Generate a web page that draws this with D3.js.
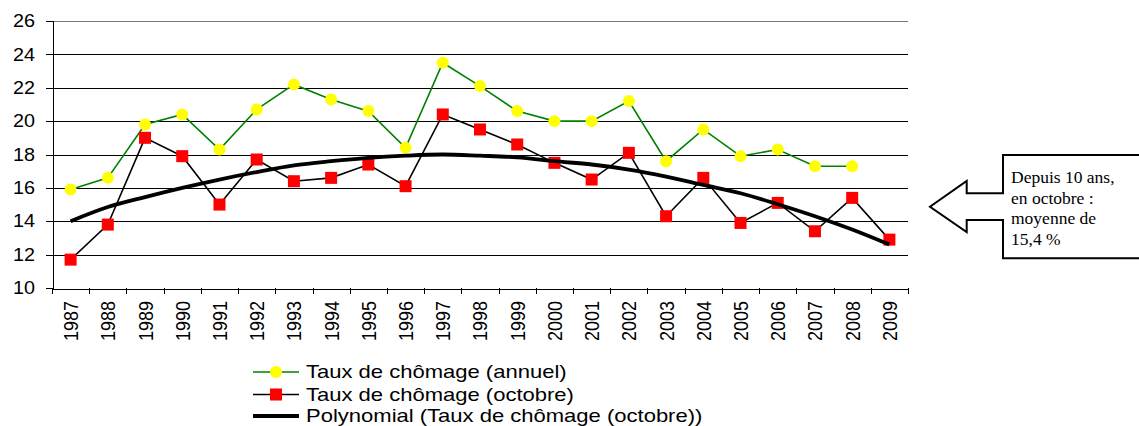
<!DOCTYPE html>
<html>
<head>
<meta charset="utf-8">
<script src="https://cdn.jsdelivr.net/npm/d3@7"></script>
<style>
  html, body { margin: 0; padding: 0; background: #fff; }
  svg { display: block; }
  text { font-family: Arial, "Liberation Sans", sans-serif; fill: #000; }
</style>
</head>
<body>
<svg id="chart" width="1139" height="426"></svg>
<script>
// ---- Data ----
const years = ["1987","1988","1989","1990","1991","1992","1993","1994","1995","1996","1997","1998","1999","2000","2001","2002","2003","2004","2005","2006","2007","2008","2009"];
const annuel = [15.9,16.6,19.8,20.4,18.3,20.7,22.2,21.3,20.6,18.4,23.5,22.1,20.6,20.0,20.0,21.2,17.6,19.5,17.9,18.3,17.3,17.3,null];
const octobre = [11.7,13.8,19.0,17.9,15.0,17.7,16.4,16.6,17.4,16.1,20.4,19.5,18.6,17.5,16.5,18.1,14.3,16.6,13.9,15.1,13.4,15.4,12.9];
const tendance = [14.0,14.85,15.45,16.0,16.5,16.95,17.35,17.6,17.8,17.93,18.0,17.93,17.83,17.6,17.4,17.1,16.68,16.18,15.68,15.02,14.3,13.5,12.6];
const yTicks = [10,12,14,16,18,20,22,24,26];
const legendLabels = ["Taux de chômage (annuel)","Taux de chômage (octobre)","Polynomial (Taux de chômage (octobre))"];
const noteLines = ["Depuis 10 ans,","en octobre :","moyenne de","15,4 %"];

// ---- Layout ----
const svg = d3.select("#chart");
const pLeft = 52, pRight = 908, pTop = 21, pBottom = 288;

const x = d3.scaleBand().domain(years).range([pLeft, pRight]).padding(0);
const y = d3.scaleLinear().domain([10, 26]).range([pBottom, pTop]);
const cx = d => x(d) + x.bandwidth() / 2;

// gridlines
svg.append("g").selectAll("line").data(yTicks.filter(t => t > 10)).join("line")
  .attr("x1", pLeft).attr("x2", pRight)
  .attr("y1", d => Math.round(y(d)) + 0.5).attr("y2", d => Math.round(y(d)) + 0.5)
  .attr("stroke", d => d === 26 ? "#777" : "#000").attr("stroke-width", 1).attr("shape-rendering", "crispEdges");

// y axis
const yAxis = svg.append("g").attr("transform", `translate(${pLeft + 0.5},0)`)
  .call(d3.axisLeft(y).tickValues(yTicks).tickSize(7).tickFormat(d3.format("d")));
yAxis.select(".domain").attr("stroke", "#000").attr("shape-rendering", "crispEdges");
yAxis.selectAll(".tick line").attr("stroke", "#000").attr("shape-rendering", "crispEdges");
yAxis.selectAll(".tick text").remove();
svg.append("g").selectAll("text").data(yTicks).join("text")
  .attr("transform", d => `translate(35,${y(d)}) scale(1.1,1)`)
  .attr("text-anchor", "end").attr("dominant-baseline", "central")
  .style("font-size", "18px").text(d => d);

// x axis
const xAxis = svg.append("g").attr("transform", `translate(0,${pBottom + 0.5})`)
  .call(d3.axisBottom(x).tickSize(0).tickFormat(""));
xAxis.select(".domain").attr("stroke", "#000").attr("shape-rendering", "crispEdges");
xAxis.selectAll(".tick").remove();
const boundaries = years.map(d => x(d)).concat([pRight]);
svg.append("g").selectAll("line").data(boundaries).join("line")
  .attr("x1", d => Math.round(d) + 0.5).attr("x2", d => Math.round(d) + 0.5)
  .attr("y1", pBottom).attr("y2", pBottom + 6)
  .attr("stroke", "#000").attr("shape-rendering", "crispEdges");
svg.append("g").selectAll("text").data(years).join("text")
  .attr("transform", d => `translate(${cx(d)},301) scale(1.15,1) rotate(-90)`)
  .attr("text-anchor", "end").attr("dominant-baseline", "central")
  .style("font-size", "18px").text(d => d);

// series
const lineA = d3.line().defined(d => d.v != null).x(d => cx(d.k)).y(d => y(d.v));
const dataA = years.map((k, i) => ({k, v: annuel[i]}));
const dataO = years.map((k, i) => ({k, v: octobre[i]}));
const dataT = years.map((k, i) => ({k, v: tendance[i]}));

svg.append("path").datum(dataA).attr("d", lineA)
  .attr("fill", "none").attr("stroke", "#008000").attr("stroke-width", 1.6);
svg.append("path").datum(dataO).attr("d", lineA)
  .attr("fill", "none").attr("stroke", "#000").attr("stroke-width", 1.6);

svg.append("g").selectAll("circle").data(dataA.filter(d => d.v != null)).join("circle")
  .attr("cx", d => cx(d.k)).attr("cy", d => y(d.v)).attr("r", 6)
  .attr("fill", "#ffff00");
svg.append("g").selectAll("rect").data(dataO).join("rect")
  .attr("x", d => cx(d.k) - 6).attr("y", d => y(d.v) - 6)
  .attr("width", 12).attr("height", 12).attr("fill", "#ff0000");

// trend line
const lineT = d3.line().x(d => cx(d.k)).y(d => y(d.v)).curve(d3.curveMonotoneX);
svg.append("path").datum(dataT).attr("d", lineT)
  .attr("fill", "none").attr("stroke", "#000").attr("stroke-width", 3.8)
  .attr("stroke-linejoin", "round");

// legend
const legY = [372, 394.5, 416];
const lg = svg.append("g");
legendLabels.forEach((lab, i) => {
  const g = lg.append("g").attr("transform", `translate(0,${legY[i]})`);
  if (i === 0) {
    g.append("line").attr("x1", 253).attr("x2", 299).attr("stroke", "#008000").attr("stroke-width", 1.6);
    g.append("circle").attr("cx", 276).attr("r", 6).attr("fill", "#ffff00");
  } else if (i === 1) {
    g.append("line").attr("x1", 253).attr("x2", 299).attr("stroke", "#000").attr("stroke-width", 1.6);
    g.append("rect").attr("x", 270).attr("y", -6).attr("width", 12).attr("height", 12).attr("fill", "#ff0000");
  } else {
    g.append("line").attr("x1", 253).attr("x2", 299).attr("stroke", "#000").attr("stroke-width", 3.8);
  }
  g.append("text").attr("transform", "translate(306,0) scale(1.19,1)")
    .attr("dominant-baseline", "central").style("font-size", "18.5px").text(lab);
});

// annotation: arrow + box
const ann = svg.append("g");
ann.append("path")
  .attr("d", "M1145,155 L1003,155 L1003,193.3 L966.7,193.3 L966.7,181 L930,206.7 L966.7,232 L966.7,220 L1003,220 L1003,258.3 L1145,258.3")
  .attr("fill", "#fff").attr("stroke", "#000").attr("stroke-width", 2);
ann.append("g").selectAll("text").data(noteLines).join("text")
  .attr("x", 1011).attr("y", (d, i) => 183 + i * 20.7)
  .style("font-family", "'Liberation Serif', 'Times New Roman', serif")
  .style("font-size", "17.5px").text(d => d);
</script>
</body>
</html>
